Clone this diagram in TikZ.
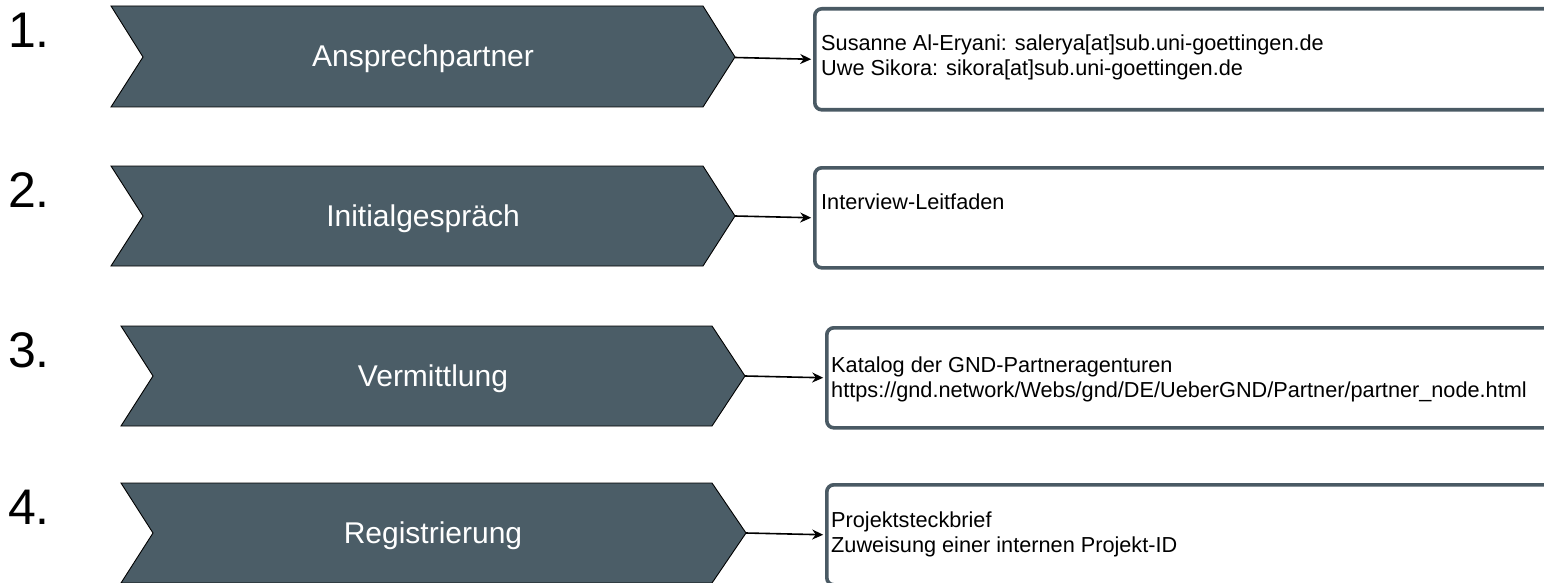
\documentclass[tikz,border=0pt]{standalone}
\usepackage{fontspec}
\setmainfont{Liberation Sans}
\usetikzlibrary{arrows.meta}
\definecolor{Slate}{HTML}{4B5D67}
\definecolor{SlateLine}{HTML}{4A5A64}
\definecolor{Paper}{HTML}{FFFFFF}

\begin{document}
\begin{tikzpicture}[x=1pt,y=-1pt,
  chev/.style={fill=Slate,draw=black,line width=0.9pt,line join=miter},
  steplabel/.style={text=white,font=\fontsize{30}{35}\selectfont,anchor=base,inner sep=0pt},
  stepnum/.style={font=\fontsize{50}{58}\selectfont,anchor=base west,inner sep=0pt},
  infobox/.style={draw=SlateLine,line width=3.6pt,rounded corners=7pt,fill=white,anchor=north west,minimum width=800pt,minimum height=100pt,inner sep=0pt},
  infotext/.style={font=\fontsize{21.7}{25}\selectfont,align=left,anchor=north west,inner sep=0pt},
  conn/.style={draw=black,line width=1.6pt,shorten >=1.8pt,-{Stealth[length=11pt,width=10pt,inset=3.5pt]}}]
\useasboundingbox (0,0) rectangle (1544,583);
\clip (0,0) rectangle (1544,583);
\fill[Paper] (0,0) rectangle (1544,583);

% 1. Ansprechpartner
\node[stepnum] (n1) at (8,48) {1.};
\draw[chev] (111,6)--(703,6)--(735,57)--(703,107)--(111,107)--(143,57)--cycle;
\coordinate (tip1) at (735,57.5);
\node[steplabel] (s1) at (423,67) {Ansprechpartner};
\node[infobox,minimum height=101pt] (b1) at (813,7) {};
\node[infotext] (i1) at ([xshift=8pt,yshift=-28pt]b1.north west) {Susanne Al-Eryani: salerya[at]sub.uni-goettingen.de\\Uwe Sikora: sikora[at]sub.uni-goettingen.de};
\draw[conn] (tip1) -- (b1.west);

% 2. Initialgespraech
\node[stepnum] (n2) at (8,207) {2.};
\draw[chev] (111,166)--(703,166)--(735,216)--(703,266)--(111,266)--(143,216)--cycle;
\coordinate (tip2) at (735,216);
\node[steplabel] (s2) at (423,226) {Initialgespräch};
\node[infobox] (b2) at (813,166) {};
\node[infotext] (i2) at ([xshift=8pt,yshift=-28pt]b2.north west) {Interview-Leitfaden};
\draw[conn] (tip2) -- (b2.west);

% 3. Vermittlung
\node[stepnum] (n3) at (8,367) {3.};
\draw[chev] (121,326)--(712,326)--(745,376)--(712,426)--(121,426)--(153,376)--cycle;
\coordinate (tip3) at (745,376);
\node[steplabel] (s3) at (433,386) {Vermittlung};
\node[infobox] (b3) at (825,326) {};
\node[infotext] (i3) at ([xshift=6pt,yshift=-31pt]b3.north west) {Katalog der GND-Partneragenturen\\https://gnd.network/Webs/gnd/DE/UeberGND/Partner/partner\_node.html};
\draw[conn] (tip3) -- (b3.west);

% 4. Registrierung
\node[stepnum] (n4) at (8,524) {4.};
\draw[chev] (121,483)--(712,483)--(746,533)--(712,583)--(121,583)--(153,533)--cycle;
\coordinate (tip4) at (746,533);
\node[steplabel] (s4) at (433,543) {Registrierung};
\node[infobox] (b4) at (825,483) {};
\node[infotext] (i4) at ([xshift=6pt,yshift=-29pt]b4.north west) {Projektsteckbrief\\Zuweisung einer internen Projekt-ID};
\draw[conn] (tip4) -- (b4.west);
\end{tikzpicture}
\end{document}
